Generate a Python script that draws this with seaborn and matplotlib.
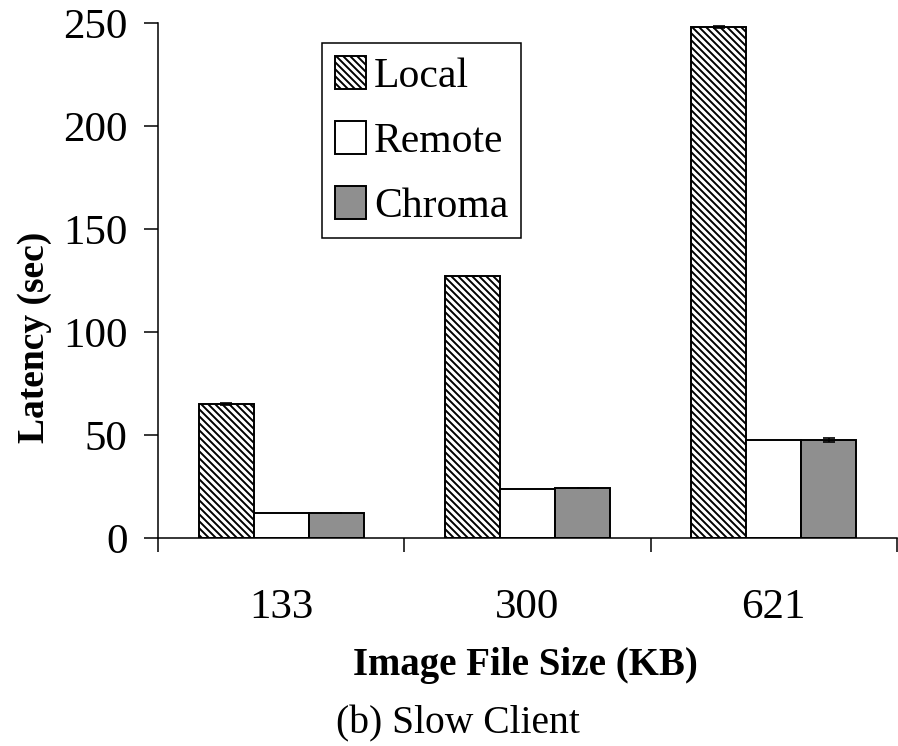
import matplotlib
matplotlib.use("Agg")
import matplotlib.pyplot as plt
import seaborn as sns
import pandas as pd
import numpy as np

sizes = ["133", "300", "621"]
methods = ["Local", "Remote", "Chroma"]
local = [65, 127, 248]
remote = [12, 24, 47.5]
chroma = [12, 24.5, 47.5]
local_err = [0.6, 0.0, 0.6]
remote_err = [0.0, 0.0, 0.0]
chroma_err = [0.0, 0.0, 0.9]
yticks = [0, 50, 100, 150, 200, 250]

DPI = 84
F = 100 / DPI  # scale point sizes so they look as at 100 dpi

sns.set_theme(style="white")
plt.rcParams["font.family"] = ["Liberation Serif", "DejaVu Serif"]
plt.rcParams["hatch.linewidth"] = 1.4 * F
plt.rcParams["hatch.color"] = "black"
for k in ["text.color", "axes.labelcolor", "xtick.color", "ytick.color"]:
    plt.rcParams[k] = "black"

df = pd.DataFrame({
    "size": sizes * 3,
    "method": [m for m in methods for _ in sizes],
    "latency": local + remote + chroma,
})
errs = {"Local": local_err, "Remote": remote_err, "Chroma": chroma_err}

fig = plt.figure(figsize=(898 / DPI, 746 / DPI), dpi=DPI)
ax = fig.add_axes([158/898, 1-538/746, (897-158)/898, (538-23)/746])

sns.barplot(data=df, x="size", y="latency", hue="method", order=sizes,
            hue_order=methods, palette=["white", "white", "#8f8f8f"],
            edgecolor="black", linewidth=1.4 * F, width=0.67, gap=0,
            errorbar=None, ax=ax, legend=False)

for cont, m in zip(ax.containers, methods):
    if m == "Local":
        for p in cont.patches:
            p.set_hatch("\\\\\\\\")
    xs = [p.get_x() + p.get_width()/2 for p in cont.patches]
    hs = [p.get_height() for p in cont.patches]
    e = errs[m]
    if any(v > 0 for v in e):
        ax.errorbar(xs, hs, yerr=e, fmt="none", ecolor="black",
                    elinewidth=1.2 * F, capsize=4 * F, capthick=1.2 * F)

ax.set_xlim(-0.5, 2.5)
ax.set_ylim(0, 250)
ax.set_yticks(yticks)
ax.set_yticklabels([str(v) for v in yticks])
ax.set_xticks(range(len(sizes)))
ax.set_xticklabels(sizes)
ax.set_xticks([-0.5, 0.5, 1.5, 2.5], minor=True)
ax.tick_params(axis="x", which="major", length=0, pad=36 * F, labelsize=31 * F, colors="black")
ax.tick_params(axis="x", which="minor", length=10 * F, width=1.1 * F, direction="out",
               bottom=True, color="black")
ax.tick_params(axis="y", which="major", length=10 * F, width=1.1 * F, direction="out", left=True,
               pad=12 * F, labelsize=31 * F, colors="black")
for s in ["top", "right"]:
    ax.spines[s].set_visible(False)
for s in ["left", "bottom"]:
    ax.spines[s].set_color("black")
    ax.spines[s].set_linewidth(1.1 * F)
ax.set_xlabel("")
ax.set_ylabel("")

fig.text(525/898, 1-675/746, "Image File Size (KB)", ha="center", va="baseline",
         fontsize=28 * F, fontweight="bold", color="black")
fig.text(35/898, 1-337/746, "Latency (sec)", ha="center", va="center", rotation=90,
         fontsize=27 * F, fontweight="bold", color="black")
fig.text(458/898, 1-733/746, "(b) Slow Client", ha="center", va="baseline",
         fontsize=28.5 * F, color="black")

handles = list(ax.containers)[:3]
leg = ax.legend(handles, methods, loc="upper left",
                bbox_to_anchor=((322-158)/(897-158), (538-43)/(538-23)),
                fontsize=30 * F, frameon=True, fancybox=False, edgecolor="black",
                framealpha=1, handlelength=0.75, handleheight=0.85, handletextpad=0.2,
                labelspacing=0.6, borderpad=0.3, borderaxespad=0)
leg.get_frame().set_linewidth(1.1 * F)
for t in leg.get_texts():
    t.set_color("black")

fig.savefig("out.png", dpi=DPI)
